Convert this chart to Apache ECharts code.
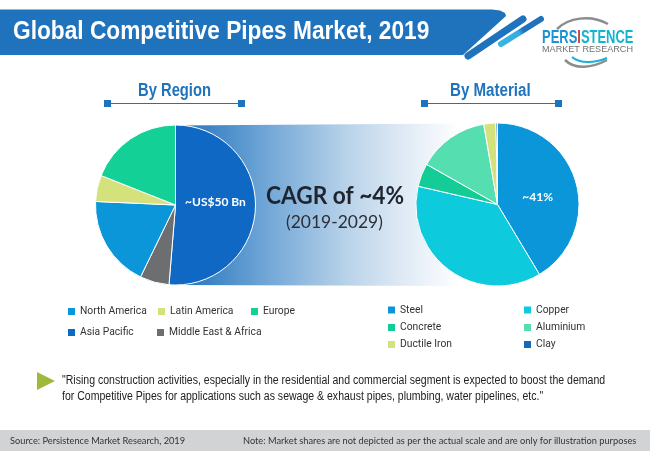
<!DOCTYPE html>
<html>
<head>
<meta charset="utf-8">
<style>html,body{margin:0;padding:0;background:#fff}#chart{width:650px;height:451px}</style>
<script src="https://cdn.jsdelivr.net/npm/echarts@6/dist/echarts.min.js"></script>
</head>
<body>
<div id="chart"></div>
<script>
const regionNames = ['Asia Pacific', 'Middle East & Africa', 'North America', 'Latin America', 'Europe'];
const regionValues = [51.3, 5.9, 18.5, 5.3, 19.0];
const regionColors = ['#0f69c4', '#6d6e70', '#0a96d8', '#d5e27c', '#12d096'];
const materialNames = ['Steel', 'Copper', 'Concrete', 'Aluminium', 'Ductile Iron', 'Clay'];
const materialValues = [41.4, 37.2, 4.6, 14.1, 2.4, 0.3];
const materialColors = ['#0a96d8', '#0dcbdc', '#14cc96', '#55dfb0', '#d5e27c', '#1568b8'];

const legendSpots = [
  ['North America', 68, 306.5], ['Latin America', 158, 306.5], ['Europe', 251, 306.5],
  ['Asia Pacific', 68, 327.5], ['Middle East & Africa', 157, 327.5],
  ['Steel', 388, 305], ['Copper', 524, 305],
  ['Concrete', 388, 322.5], ['Aluminium', 524, 322.5],
  ['Ductile Iron', 388, 339.5], ['Clay', 524, 339.5],
];
const sans = '"Liberation Sans", sans-serif';
const blue = '#1f72bc';

function pieData(names, values, colors) {
  return names.map((name, i) => ({ name, value: values[i], itemStyle: { color: colors[i] } }));
}
// no narrow font installed, so squeeze text horizontally
function squeezed(text, x, y, scaleX, font, fill) {
  return {
    type: 'text', x, y, scaleX, z: 6,
    style: { text, x: 0, y: 0, verticalAlign: 'middle', font, fill },
  };
}
function headingRule(x1, x2) {
  return [
    { type: 'line', shape: { x1, y1: 103.5, x2, y2: 103.5 }, style: { stroke: blue, lineWidth: 1.2 } },
    { type: 'rect', shape: { x: x1 - 3, y: 100, width: 7, height: 7 }, style: { fill: blue } },
    { type: 'rect', shape: { x: x2 - 4, y: 100, width: 7, height: 7 }, style: { fill: blue } },
  ];
}

const chart = echarts.init(document.getElementById('chart'));
chart.setOption({
  animation: false,
  legend: legendSpots.map(([name, left, top]) => ({
    left, top, data: [name], itemWidth: 7, itemHeight: 7, padding: 0, icon: 'rect',
    itemStyle: { borderWidth: 0 },
    textStyle: { fontFamily: 'Roboto', fontSize: 10.3, color: '#333' },
  })),
  series: [
    {
      type: 'pie', center: [175.5, 205], radius: [0, 80], startAngle: 90, z: 5,
      data: pieData(regionNames, regionValues, regionColors),
      itemStyle: { borderColor: '#fff', borderWidth: 1 },
      label: {
        position: 'inside', color: '#fff', fontFamily: 'Lato', fontWeight: 'bold', fontSize: 12,
        offset: [-3, -5],
        formatter: (p) => (p.name === 'Asia Pacific' ? '~US$50 Bn' : ''),
      },
      labelLine: { show: false }, silent: true,
    },
    {
      type: 'pie', center: [497.5, 204.5], radius: [0, 81.5], startAngle: 90, z: 5,
      data: pieData(materialNames, materialValues, materialColors),
      itemStyle: { borderColor: '#fff', borderWidth: 1 },
      label: {
        position: 'inside', color: '#fff', fontFamily: 'Lato', fontWeight: 'bold', fontSize: 12,
        offset: [-2, 4],
        formatter: (p) => (p.name === 'Steel' ? '~41%' : ''),
      },
      labelLine: { show: false }, silent: true,
    },
  ],
  graphic: [
    // header band
    { type: 'polygon', z: 1, shape: { points: [[0, 9.5], [492, 9.5], [500, 10.5], [505, 13], [506, 16], [463, 55], [0, 55]] }, style: { fill: blue } },
    { type: 'line', z: 1, shape: { x1: 468, y1: 56, x2: 523, y2: 19 }, style: { stroke: blue, lineWidth: 7, lineCap: 'round' } },
    { type: 'line', z: 1, shape: { x1: 501, y1: 44, x2: 541, y2: 19 }, style: {
      stroke: new echarts.graphic.LinearGradient(0, 1, 1, 0, [{ offset: 0, color: '#38b6e2' }, { offset: 0.45, color: '#35ace0' }, { offset: 0.55, color: blue }, { offset: 1, color: blue }]),
      lineWidth: 6, lineCap: 'round' } },
    squeezed('Global Competitive Pipes Market, 2019', 13, 32, 0.873, 'bold 26px ' + sans, '#fff'),
    // logo
    { type: 'bezierCurve', z: 2, shape: { x1: 557, y1: 29, cpx1: 568, cpy1: 18, x2: 608, y2: 24, cpx2: 590, cpy2: 14 }, style: { stroke: '#8a8c8e', fill: 'none', lineWidth: 2.5 } },
    { type: 'bezierCurve', z: 2, shape: { x1: 565, y1: 60, cpx1: 575, cpy1: 70, x2: 607, y2: 60, cpx2: 592, cpy2: 68 }, style: { stroke: '#8a8c8e', fill: 'none', lineWidth: 2.5 } },
    { type: 'bezierCurve', z: 2, shape: { x1: 572, y1: 57, cpx1: 580, cpy1: 64, x2: 607, y2: 58, cpx2: 595, cpy2: 63 }, style: { stroke: '#1ab0dc', fill: 'none', lineWidth: 2 } },
    {
      type: 'text', x: 542, y: 38, scaleX: 0.72, z: 6,
      style: {
        text: '{a|PERS}{b|I}{c|STENCE}', x: 0, y: 0, verticalAlign: 'middle',
        rich: {
          a: { font: 'bold 18px ' + sans, fill: '#1a93d4' },
          b: { font: 'bold 18px ' + sans, fill: '#c8413a' },
          c: { font: 'bold 18px ' + sans, fill: '#12b4d0' },
        },
      },
    },
    squeezed('MARKET RESEARCH', 542, 50, 1.07, '8.5px ' + sans, '#6f7173'),
    // panel headings
    squeezed('By Region', 138, 91, 0.82, 'bold 18px ' + sans, blue),
    squeezed('By Material', 450, 91, 0.84, 'bold 18px ' + sans, blue),
    ...headingRule(107, 242),
    ...headingRule(424, 559),
    // gradient band behind the pies
    { type: 'polygon', z: 0, shape: { points: [[175, 125.5], [460, 123.5], [460, 286], [175, 285]] }, style: {
      fill: new echarts.graphic.LinearGradient(0, 0, 1, 0, [
        { offset: 0, color: '#1f6fba' }, { offset: 0.3, color: '#6ba3d5' }, { offset: 0.6, color: '#b8d2e9' }, { offset: 0.8, color: '#dfeaf5' }, { offset: 1, color: '#ffffff' },
      ]) } },
    squeezed('CAGR of ~4%', 266, 196, 0.945, 'bold 24px Lato', '#1f2530'),
    squeezed('(2019-2029)', 286, 222.5, 0.97, '18px Lato', '#2a2f38'),
    // quote
    { type: 'polygon', shape: { points: [[37, 372], [55, 381], [37, 390]] }, style: { fill: '#9fb93c' } },
    squeezed('"Rising construction activities, especially in the residential and commercial segment is expected to boost the demand', 62, 381, 0.842, '12.5px ' + sans, '#222'),
    squeezed('for Competitive Pipes for applications such as sewage & exhaust pipes, plumbing, water pipelines, etc."', 62, 397, 0.842, '12.5px ' + sans, '#222'),
    // footer
    { type: 'rect', z: 0, shape: { x: 0, y: 430, width: 650, height: 21 }, style: { fill: '#d1d3d4' } },
    squeezed('Source: Persistence Market Research, 2019', 10, 441, 0.925, '10px Lato', '#333'),
    squeezed('Note: Market shares are not depicted as per the actual scale and are only for illustration purposes', 243, 441, 0.925, '10px Lato', '#333'),
  ],
});
</script>
</body>
</html>
